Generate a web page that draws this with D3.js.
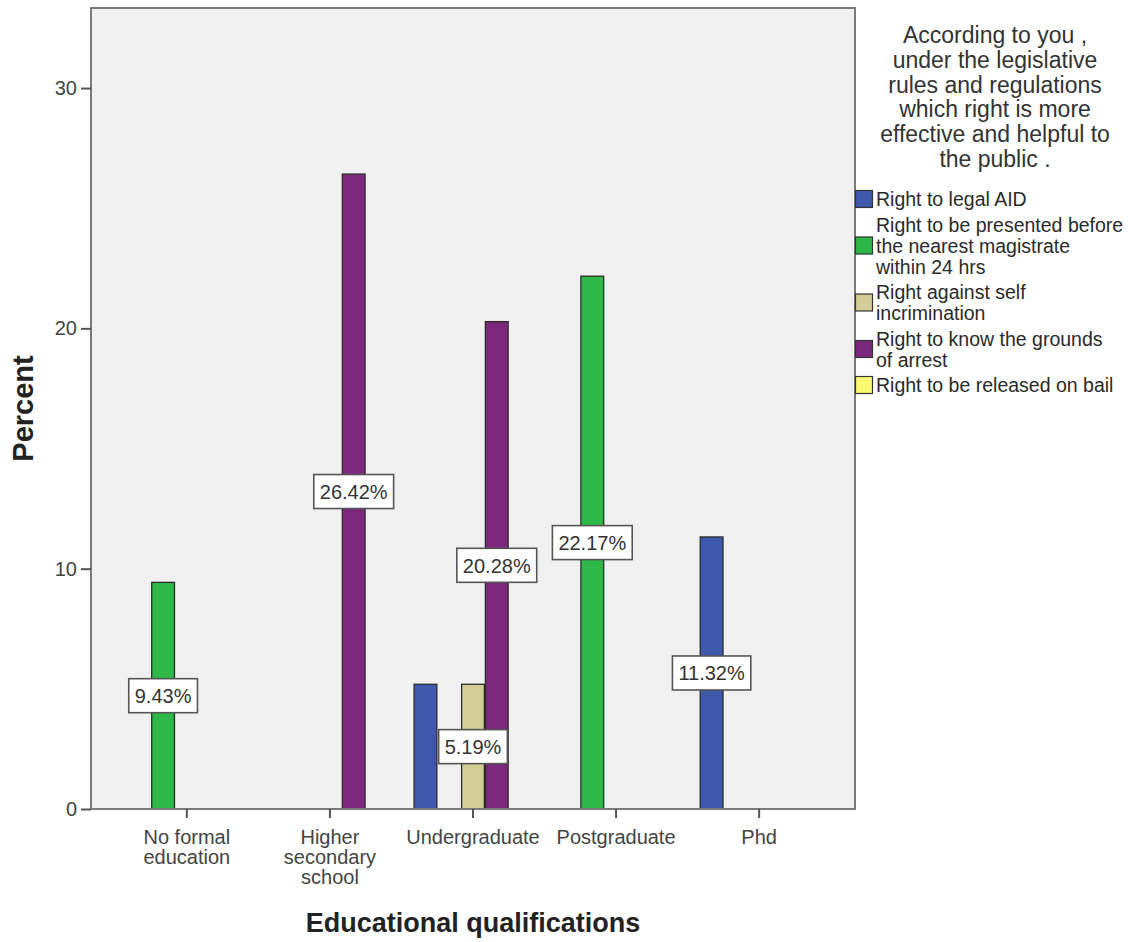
<!DOCTYPE html>
<html>
<head>
<meta charset="utf-8">
<script src="https://cdn.jsdelivr.net/npm/d3@7"></script>
<style>
  html, body { margin: 0; padding: 0; background: #ffffff; }
  svg { display: block; font-family: "Liberation Sans", Arial, sans-serif; }
</style>
</head>
<body>
<svg id="chart" width="1139" height="942"></svg>
<script>
// ---------- data ----------
const categories = ["No formal education", "Higher secondary school", "Undergraduate", "Postgraduate", "Phd"];
const categoryLines = [["No formal", "education"], ["Higher", "secondary", "school"], ["Undergraduate"], ["Postgraduate"], ["Phd"]];

const seriesNames = [
  "Right to legal AID",
  "Right to be presented before the nearest magistrate within 24 hrs",
  "Right against self incrimination",
  "Right to know the grounds of arrest",
  "Right to be released on bail"
];
const seriesLines = [
  ["Right to legal AID"],
  ["Right to be presented before", "the nearest magistrate", "within 24 hrs"],
  ["Right against self", "incrimination"],
  ["Right to know the grounds", "of arrest"],
  ["Right to be released on bail"]
];
const seriesColors = ["#3E58AC", "#2EB848", "#D3CE97", "#7C287D", "#FBF873"];

const legalAidValues   = [0, 0, 5.19, 0, 11.32];
const magistrateValues = [9.43, 0, 0, 22.17, 0];
const selfIncrimValues = [0, 0, 5.19, 0, 0];
const groundsValues    = [0, 26.42, 20.28, 0, 0];
const bailValues       = [0, 0, 0, 0, 0];
const seriesValues = [legalAidValues, magistrateValues, selfIncrimValues, groundsValues, bailValues];

const yTicks = [0, 10, 20, 30];
const yMax = 33.33;

const legendTitleLines = ["According to you ,", "under the legislative", "rules and regulations", "which right is more", "effective and helpful to", "the public ."];
const xTitle = "Educational qualifications";
const yTitle = "Percent";

// ---------- layout ----------
const plot = { left: 91, right: 855, top: 8, bottom: 809 };
const svg = d3.select("#chart");

const x0 = d3.scaleBand().domain(categories).range([plot.left, plot.right]).paddingInner(0).paddingOuter(0.17);
const x1 = d3.scaleBand().domain(d3.range(seriesNames.length)).range([0, x0.bandwidth()]).paddingInner(0).paddingOuter(0.51);
const y = d3.scaleLinear().domain([0, yMax]).range([plot.bottom, plot.top]);

// plot background
svg.append("rect")
  .attr("x", plot.left).attr("y", plot.top)
  .attr("width", plot.right - plot.left).attr("height", plot.bottom - plot.top)
  .attr("fill", "#f0f0f0");

// bars
const bars = [];
seriesValues.forEach((vals, si) => {
  vals.forEach((v, ci) => {
    if (v > 0) bars.push({ si, ci, v });
  });
});

svg.append("g").selectAll("rect").data(bars).join("rect")
  .attr("x", d => x0(categories[d.ci]) + x1(d.si) + 0.5)
  .attr("y", d => y(d.v))
  .attr("width", x1.bandwidth() - 1)
  .attr("height", d => y(0) - y(d.v))
  .attr("fill", d => seriesColors[d.si])
  .attr("stroke", "#2b2b2b")
  .attr("stroke-width", 1.3);

// plot border
svg.append("rect")
  .attr("x", plot.left).attr("y", plot.top)
  .attr("width", plot.right - plot.left).attr("height", plot.bottom - plot.top)
  .attr("fill", "none").attr("stroke", "#7a7a7a").attr("stroke-width", 2);

// y axis
const yAxis = d3.axisLeft(y).tickValues(yTicks).tickSize(10).tickPadding(4).tickFormat(d3.format("d"));
const yg = svg.append("g").attr("transform", `translate(${plot.left},0)`).call(yAxis);
yg.select(".domain").remove();
yg.selectAll(".tick line").attr("stroke", "#555").attr("stroke-width", 2);
yg.selectAll(".tick text").attr("font-size", 20).attr("fill", "#444").attr("font-family", "Liberation Sans, Arial, sans-serif");

// x axis
const xAxis = d3.axisBottom(x0).tickSize(9).tickFormat("");
const xg = svg.append("g").attr("transform", `translate(0,${plot.bottom})`).call(xAxis);
xg.select(".domain").remove();
xg.selectAll(".tick line").attr("stroke", "#555").attr("stroke-width", 2);
xg.selectAll(".tick text").remove();

// x category labels (multi-line)
categories.forEach((c, i) => {
  const cx = x0(c) + x0.bandwidth() / 2;
  const t = svg.append("text")
    .attr("x", cx)
    .attr("y", 844)
    .attr("text-anchor", "middle")
    .attr("font-size", 20)
    .attr("fill", "#444");
  categoryLines[i].forEach((ln, k) => {
    t.append("tspan").attr("x", cx).attr("dy", k === 0 ? 0 : 20).text(ln);
  });
});

// axis titles
svg.append("text")
  .attr("x", (plot.left + plot.right) / 2).attr("y", 932)
  .attr("text-anchor", "middle").attr("font-weight", "bold").attr("font-size", 27)
  .attr("fill", "#222").text(xTitle);

svg.append("text")
  .attr("transform", `translate(33,${(plot.top + plot.bottom) / 2}) rotate(-90)`)
  .attr("text-anchor", "middle").attr("font-weight", "bold").attr("font-size", 29)
  .attr("fill", "#222").text(yTitle);

// value labels (later series take precedence on overlap)
const placed = [];
const labelG = svg.append("g");
const labelOrder = bars.slice().sort((a, b) => b.si - a.si || a.ci - b.ci);
labelOrder.forEach(d => {
  const cx = x0(categories[d.ci]) + x1(d.si) + x1.bandwidth() / 2;
  const cy = y(d.v / 2);
  const txt = d3.format(".2f")(d.v) + "%";
  const g = labelG.append("g");
  const t = g.append("text").attr("x", cx).attr("y", cy).attr("dy", "0.36em")
    .attr("text-anchor", "middle").attr("font-size", 20).attr("fill", "#333").text(txt);
  const w = t.node().getComputedTextLength() + 12;
  const h = 34;
  const box = { x0: cx - w / 2, x1: cx + w / 2, y0: cy - h / 2, y1: cy + h / 2 };
  const overlaps = placed.some(p => !(box.x1 < p.x0 || box.x0 > p.x1 || box.y1 < p.y0 || box.y0 > p.y1));
  if (overlaps) { g.remove(); return; }
  placed.push(box);
  g.insert("rect", "text")
    .attr("x", box.x0).attr("y", box.y0).attr("width", w).attr("height", h)
    .attr("fill", "#ffffff").attr("stroke", "#555").attr("stroke-width", 1.6);
});

// legend title
const lt = svg.append("text").attr("x", 995).attr("y", 43).attr("text-anchor", "middle")
  .attr("font-size", 23).attr("fill", "#333");
legendTitleLines.forEach((ln, k) => {
  lt.append("tspan").attr("x", 995).attr("dy", k === 0 ? 0 : 24.8).text(ln);
});

// legend items
let baseY = 206;
const lineH = 21, itemGap = 4.5;
seriesNames.forEach((s, i) => {
  const lines = seriesLines[i];
  const firstBase = baseY;
  const lastBase = baseY + (lines.length - 1) * lineH;
  const centerY = (firstBase + lastBase) / 2 - 7;
  svg.append("rect")
    .attr("x", 855.5).attr("y", centerY - 8.5).attr("width", 17).attr("height", 17)
    .attr("fill", seriesColors[i]).attr("stroke", "#333").attr("stroke-width", 1.2);
  const t = svg.append("text").attr("x", 876).attr("y", firstBase)
    .attr("font-size", 19.5).attr("fill", "#2a2a2a");
  lines.forEach((ln, k) => {
    t.append("tspan").attr("x", 876).attr("dy", k === 0 ? 0 : lineH).text(ln);
  });
  baseY = lastBase + lineH + itemGap;
});
</script>
</body>
</html>
